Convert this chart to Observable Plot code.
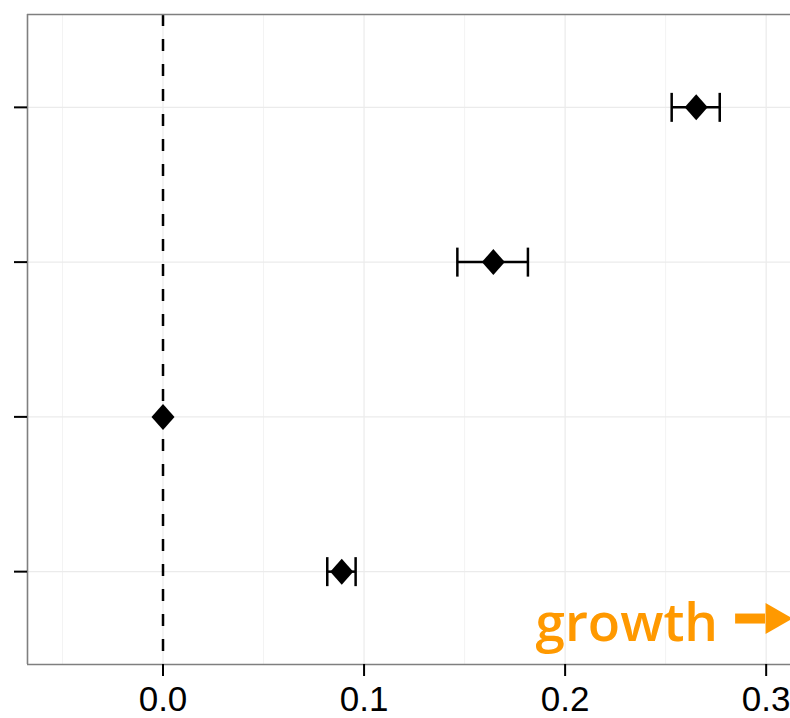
<!DOCTYPE html>
<html>
<head>
<meta charset="utf-8">
<script src="https://cdn.jsdelivr.net/npm/d3@7"></script>
<script src="https://cdn.jsdelivr.net/npm/@observablehq/plot@0.6"></script>
<style>
  html, body { margin: 0; padding: 0; background: white; overflow: hidden; }
  #chart { width: 790px; height: 718px; overflow: hidden; }
</style>
</head>
<body>
<div id="chart"></div>
<script>
// ---- data ----
const categories = ["A", "B", "C", "D"];           // labels not shown in the reference
const estimate   = [0.2652, 0.1643, 0.0, 0.0889];
const lower      = [0.2530, 0.1464, null, 0.0817];
const upper      = [0.2769, 0.1815, null, 0.0958];
const xTicks      = [0, 0.1, 0.2, 0.3];
const xMinorTicks = [-0.05, 0.05, 0.15, 0.25];
const xDomain = [-0.0674, 0.3121];
const yDomain = [0.4, 4.6];                          // category slots 1..4 with 0.6 expansion
const annotationLabel = [{label: "growth", x: 0.1853, y: 4.445}];
const annotationArrow = [{x1: 0.2848, x2: 0.2997, y: 4.303}];

// ---- derived table ----
const rows = categories.map((c, i) => ({cat: c, pos: i + 1, est: estimate[i], lo: lower[i], hi: upper[i]}));
const withCI = rows.filter(d => d.lo != null && d.hi != null);
const caps = withCI.flatMap(d => [{x: d.lo, pos: d.pos}, {x: d.hi, pos: d.pos}]);
const yTicks = rows.map(d => d.pos);

// ---- custom symbols ----
const diamond = {draw(ctx) { ctx.moveTo(0, -13); ctx.lineTo(11.5, 0); ctx.lineTo(0, 13); ctx.lineTo(-11.5, 0); ctx.closePath(); }};
const capLine = {draw(ctx) { ctx.moveTo(0, -14.5); ctx.lineTo(0, 14.5); }};
const arrowHead = {draw(ctx) { ctx.moveTo(0, -15.5); ctx.lineTo(27, 0); ctx.lineTo(0, 15.5); ctx.closePath(); }};

const orange = "#ff9900";

const chart = Plot.plot({
  width: 790,
  height: 718,
  marginTop: 14,
  marginBottom: 54,
  marginLeft: 27,
  marginRight: 0,
  style: {background: "white", fontFamily: "'Liberation Sans', Arial, sans-serif", color: "black"},
  x: {domain: xDomain},
  y: {domain: yDomain, reverse: true},
  marks: [
    Plot.gridX(xMinorTicks, {stroke: "#f3f3f3", strokeOpacity: 1, strokeWidth: 1}),
    Plot.gridX(xTicks, {stroke: "#ebebeb", strokeOpacity: 1, strokeWidth: 1.2}),
    Plot.gridY(yTicks, {stroke: "#ebebeb", strokeOpacity: 1, strokeWidth: 1.2}),
    Plot.ruleX([0], {stroke: "black", strokeWidth: 2.5, strokeDasharray: "12,13"}),
    Plot.ruleY(withCI, {y: "pos", x1: "lo", x2: "hi", stroke: "black", strokeWidth: 2.5}),
    Plot.dot(caps, {x: "x", y: "pos", symbol: capLine, stroke: "black", strokeWidth: 2.5, fill: "none"}),
    Plot.dot(rows, {x: "est", y: "pos", symbol: diamond, fill: "black", stroke: "none"}),
    Plot.text(annotationLabel, {x: "x", y: "y", text: "label", textAnchor: "start", lineAnchor: "bottom",
      fontSize: 53, fontWeight: 600, fontFamily: "'Open Sans', sans-serif", fill: orange}),
    Plot.ruleY(annotationArrow, {y: "y", x1: "x1", x2: "x2", stroke: orange, strokeWidth: 10}),
    Plot.dot(annotationArrow, {x: "x2", y: "y", symbol: arrowHead, fill: orange, stroke: "none"}),
    Plot.ruleX([xDomain[0]], {stroke: "#7f7f7f", strokeWidth: 1.6}),
    Plot.ruleY(yDomain, {stroke: "#7f7f7f", strokeWidth: 1.6}),
    Plot.axisX(xTicks, {tickSize: 12, tickPadding: 10, tickFormat: d3.format(".1f"), fontSize: 35,
      stroke: "black", fill: "black", strokeWidth: 2, label: null}),
    Plot.axisY(yTicks, {tickSize: 13, tickFormat: () => "", stroke: "black", strokeWidth: 2, label: null})
  ]
});
document.getElementById("chart").appendChild(chart);
</script>
</body>
</html>
